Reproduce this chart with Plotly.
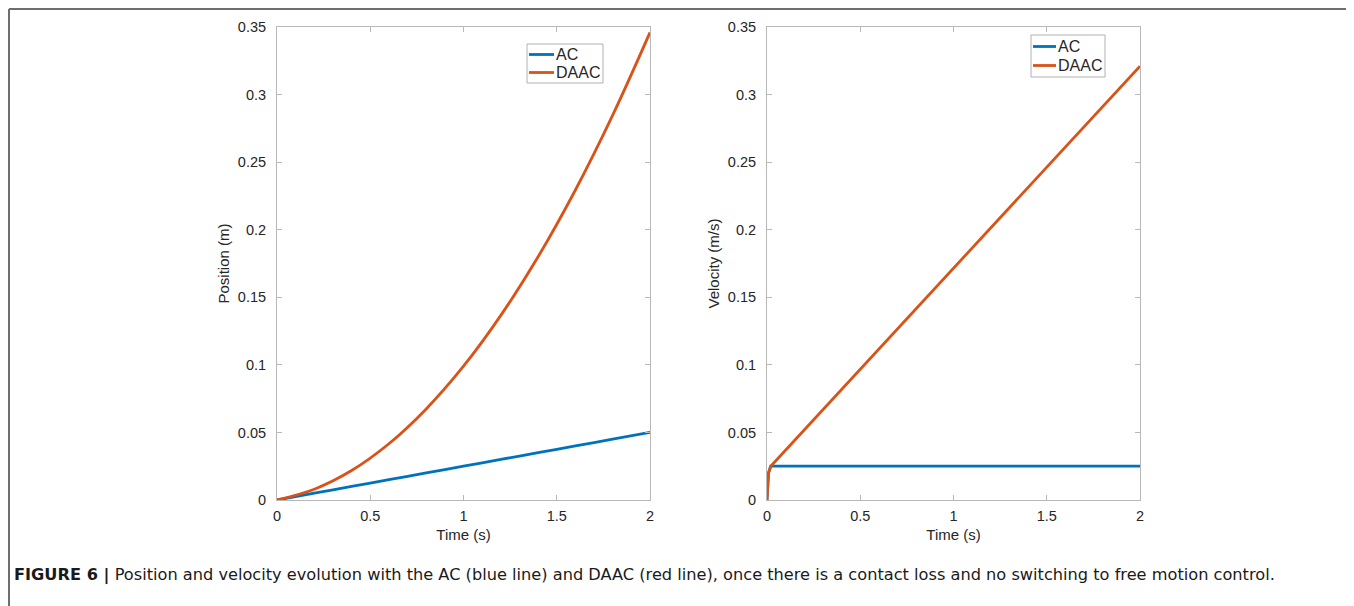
import plotly.graph_objects as go

# ---- data ----
t_pos = [0, 0.2, 0.4, 0.6, 0.8, 1.0, 1.2, 1.4, 1.6, 1.8, 2.0]
pos_ac = [0, 0.005, 0.010, 0.015, 0.020, 0.025, 0.030, 0.035, 0.040, 0.045, 0.050]
pos_daac = [0, 0.0080, 0.0218, 0.0416, 0.0674, 0.099, 0.1366, 0.1800, 0.2294, 0.2848, 0.346]

t_vel_ac = [0, 0.008, 0.02, 2.0]
vel_ac = [0, 0.020, 0.025, 0.025]
t_vel_daac = [0, 0.008, 0.02, 0.04, 2.0]
vel_daac = [0, 0.020, 0.025, 0.028, 0.321]

series_names = ["AC", "DAAC"]
x_ticks = [0, 0.5, 1, 1.5, 2]
x_labels = ["0", "0.5", "1", "1.5", "2"]
y_ticks = [0, 0.05, 0.1, 0.15, 0.2, 0.25, 0.3, 0.35]
y_labels = ["0", "0.05", "0.1", "0.15", "0.2", "0.25", "0.3", "0.35"]

BLUE = "#0072BD"
ORANGE = "#D95319"
COLORS = [BLUE, ORANGE]
W, H = 1354, 606
OFF = 8  # page body margin


def px(x):
    return (x - OFF) / W


def py(y):
    return 1 - (y - OFF) / H


LW = 2.8
fig = go.Figure()
fig.add_trace(go.Scatter(x=t_pos, y=pos_ac, mode="lines", name=series_names[0],
                         line=dict(color=BLUE, width=LW, shape="spline"),
                         xaxis="x", yaxis="y", showlegend=False))
fig.add_trace(go.Scatter(x=t_pos, y=pos_daac, mode="lines", name=series_names[1],
                         line=dict(color=ORANGE, width=LW, shape="spline"),
                         xaxis="x", yaxis="y", showlegend=False))
fig.add_trace(go.Scatter(x=t_vel_ac, y=vel_ac, mode="lines", name=series_names[0],
                         line=dict(color=BLUE, width=LW),
                         xaxis="x2", yaxis="y2", showlegend=False))
fig.add_trace(go.Scatter(x=t_vel_daac, y=vel_daac, mode="lines", name=series_names[1],
                         line=dict(color=ORANGE, width=LW),
                         xaxis="x2", yaxis="y2", showlegend=False))

FONT = "Liberation Sans, Arial, sans-serif"
tickfont = dict(family=FONT, size=14.5, color="#262626")
axis_common = dict(showgrid=False, zeroline=False, showline=True, linecolor="#b8b8b8",
                   linewidth=1, mirror="ticks", ticks="inside", ticklen=5,
                   tickcolor="#b8b8b8", tickfont=tickfont, automargin=False)


def xax(domain, anchor):
    return dict(axis_common, domain=domain, anchor=anchor, range=[0, 2],
                tickvals=x_ticks, ticktext=x_labels, ticklabelstandoff=3,
                title=dict(text="Time (s)", font=dict(tickfont, size=15), standoff=6))


def yax(domain_y, anchor, title):
    return dict(axis_common, domain=domain_y, anchor=anchor, range=[0, 0.35],
                tickvals=y_ticks, ticktext=y_labels, ticklabelstandoff=7,
                title=dict(text=title, font=dict(tickfont, size=15), standoff=4))


yd = [py(500), py(27)]
fig.update_layout(
    width=W, height=H,
    margin=dict(l=0, r=0, t=0, b=0, pad=0),
    paper_bgcolor="white", plot_bgcolor="white",
    xaxis=xax([px(277), px(650)], "y"),
    yaxis=yax(yd, "x", "Position (m)"),
    xaxis2=xax([px(767), px(1140)], "y2"),
    yaxis2=yax(yd, "x2", "Velocity (m/s)"),
    showlegend=False,
)

# legends (box, line samples, labels)
legfont = dict(family=FONT, size=16, color="#262626")
for (bx0, bx1, by0, by1, lx0, lx1, rows) in [
    (527, 603, 44, 83, 529, 554, [54.5, 72.5]),
    (1031, 1105, 35, 77, 1033, 1056, [46.5, 65.5]),
]:
    fig.add_shape(type="rect", xref="paper", yref="paper",
                  x0=px(bx0), x1=px(bx1), y0=py(by1), y1=py(by0),
                  line=dict(color="#b0b0b0", width=1), fillcolor="white", layer="above")
    for name, col, ry in zip(series_names, COLORS, rows):
        fig.add_shape(type="line", xref="paper", yref="paper",
                      x0=px(lx0), x1=px(lx1), y0=py(ry), y1=py(ry),
                      line=dict(color=col, width=LW), layer="above")
        fig.add_annotation(xref="paper", yref="paper", x=px(lx1 + 1), y=py(ry),
                           xanchor="left", yanchor="middle", showarrow=False,
                           text=name, font=legfont, borderpad=0)

# outer figure frame (top, left, right)
frame = dict(type="line", xref="paper", yref="paper", line=dict(color="#6e6e6e", width=2))
fig.add_shape(frame, x0=px(9), x1=px(1353), y0=py(9), y1=py(9))
fig.add_shape(frame, x0=px(9), x1=px(9), y0=py(9), y1=0)
fig.add_shape(frame, x0=px(1353), x1=px(1353), y0=py(9), y1=0)

fig.add_annotation(
    xref="paper", yref="paper", x=px(12), y=py(575), xanchor="left", yanchor="middle",
    showarrow=False, align="left",
    text="<b>FIGURE 6 |</b> Position and velocity evolution with the AC (blue line) and DAAC (red line), "
         "once there is a contact loss and no switching to free motion control.",
    font=dict(family="DejaVu Sans, sans-serif", size=16.2, color="#1a1a1a"),
)

fig.write_html("out.html")
